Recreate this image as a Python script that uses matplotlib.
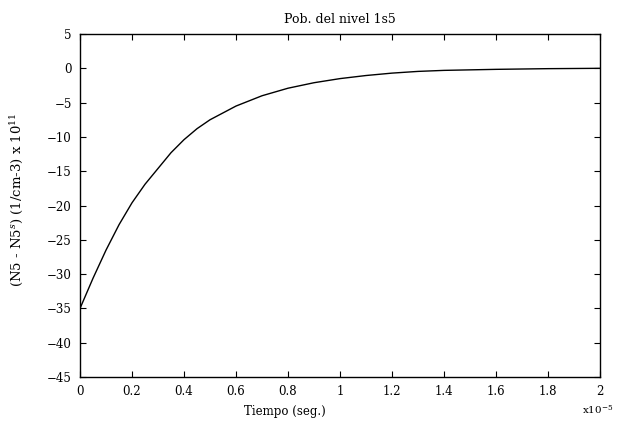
import numpy as np
import matplotlib
matplotlib.use("Agg")
from matplotlib import pyplot as plt

# datos (tiempo en unidades de 1e-5 s)
tiempo = [0, 0.05, 0.1, 0.15, 0.2, 0.25, 0.3, 0.35, 0.4, 0.45, 0.5, 0.6, 0.7,
          0.8, 0.9, 1.0, 1.1, 1.2, 1.3, 1.4, 1.6, 1.8, 2.0]
pob = [-35, -30.6, -26.5, -22.8, -19.6, -16.9, -14.6, -12.3, -10.4, -8.8, -7.5,
       -5.5, -4.0, -2.9, -2.1, -1.5, -1.05, -0.7, -0.45, -0.3, -0.15, -0.05, 0.0]
xticks = [0, 0.2, 0.4, 0.6, 0.8, 1, 1.2, 1.4, 1.6, 1.8, 2]
yticks = list(range(-45, 10, 5))

plt.rcParams['font.family'] = 'DejaVu Serif'
plt.rcParams['mathtext.fontset'] = 'dejavuserif'

fig = plt.figure(figsize=(6.17, 4.29), dpi=100)
ax = fig.add_axes([0.1297, 0.1212, 0.8427, 0.7995])

ax.plot(tiempo, pob, color='black', lw=1.0)

ax.set_xlim(0, 2)
ax.set_ylim(-45, 5)
ax.set_xticks(xticks)
ax.set_xticklabels(['0', '0.2', '0.4', '0.6', '0.8', '1', '1.2', '1.4', '1.6', '1.8', '2'])
ax.set_yticks(yticks)
ax.tick_params(direction='in', length=4, width=0.8, top=True, right=True,
               labelsize=8.5, pad=6)
for s in ax.spines.values():
    s.set_linewidth(1.0)

ax.set_title('Pob. del nivel 1s5', fontsize=9, pad=8)
fig.text(285 / 617, 1 - 412 / 429, 'Tiempo (seg.)', fontsize=8.5,
         ha='center', va='center')
fig.text(613 / 617, 1 - 410 / 429, r'x10$^{-5}$', fontsize=7.5,
         ha='right', va='center')
fig.text(17 / 617, 1 - 200 / 429, r'(N5 - N5$^{s}$) (1/cm-3) x 10$^{11}$',
         fontsize=9.5, rotation=90, ha='center', va='center')

fig.savefig('out.png', dpi=100)
